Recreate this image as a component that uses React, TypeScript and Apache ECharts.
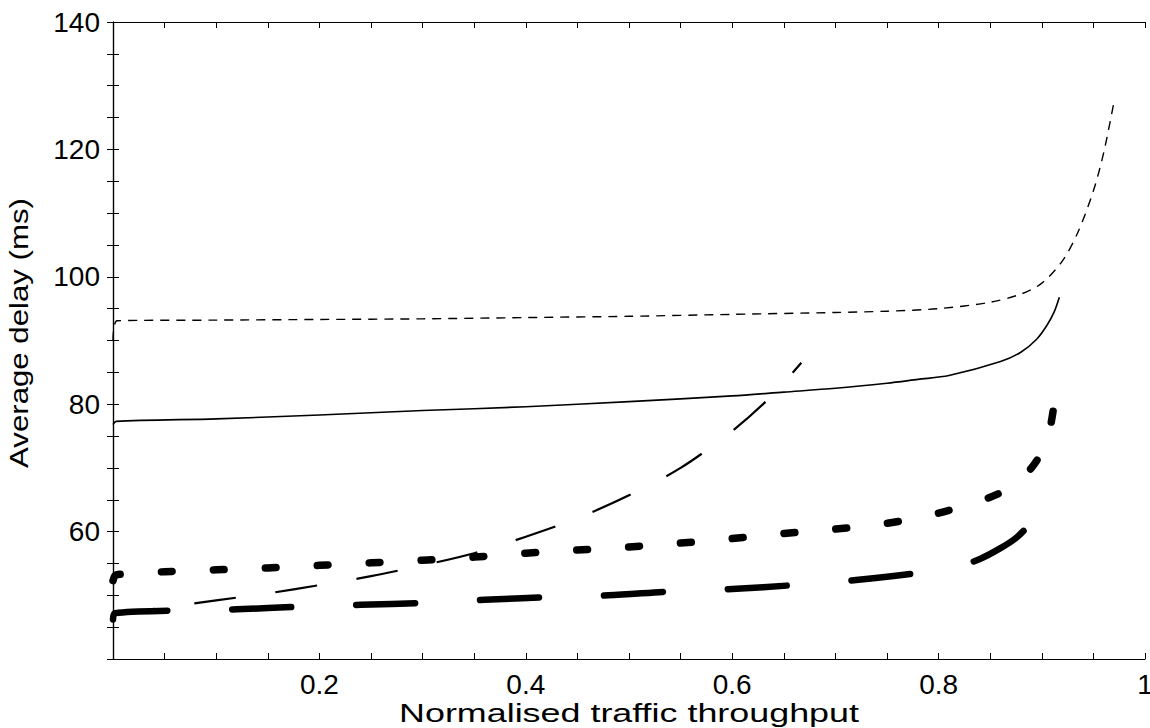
import React, { useEffect, useRef } from "react";
import * as echarts from "echarts";

// Series A: thin short-dashed
const aX = [0, 0.004, 0.1, 0.2, 0.3, 0.4, 0.5, 0.6, 0.7, 0.75, 0.8, 0.85, 0.88, 0.9, 0.92, 0.935, 0.95, 0.96, 0.97];
const aY = [90, 93.1, 93.2, 93.3, 93.4, 93.6, 93.8, 94.1, 94.4, 94.6, 95.0, 96.0, 97.3, 99, 102.5, 107, 113.5, 119.5, 127.5];
// Series B: thin solid
const bX = [0, 0.003, 0.1, 0.2, 0.3, 0.4, 0.5, 0.6, 0.65, 0.7, 0.75, 0.78, 0.81, 0.86, 0.88, 0.895, 0.905, 0.912, 0.917];
const bY = [76.8, 77.3, 77.7, 78.3, 79.0, 79.6, 80.4, 81.3, 81.9, 82.5, 83.3, 83.9, 84.5, 86.7, 88.2, 90.2, 92.4, 94.5, 96.8];
// Series C: thin long-dashed
const cX = [0, 0.05, 0.1, 0.15, 0.2, 0.25, 0.3, 0.35, 0.4, 0.45, 0.5, 0.55, 0.6, 0.635, 0.667];
const cY = [47.0, 48.1, 49.2, 50.3, 51.6, 53.0, 54.7, 56.6, 59.2, 62.1, 65.7, 70.0, 75.8, 80.8, 86.5];
// Series D: thick long-dashed
const dX = [0, 0.002, 0.06, 0.12, 0.18, 0.24, 0.3, 0.36, 0.42, 0.48, 0.54, 0.6, 0.66, 0.72, 0.78, 0.82, 0.84, 0.86, 0.875, 0.887];
const dY = [46.2, 47.2, 47.6, 47.8, 48.2, 48.5, 48.8, 49.3, 49.7, 50.0, 50.6, 51.0, 51.6, 52.4, 53.5, 54.6, 55.7, 57.4, 59.0, 60.9];
// Series E: thick short-dashed
const eX = [0, 0.003, 0.05, 0.1, 0.15, 0.2, 0.25, 0.3, 0.35, 0.4, 0.45, 0.5, 0.55, 0.6, 0.65, 0.7, 0.75, 0.8, 0.85, 0.875, 0.89, 0.9, 0.907, 0.911];
const eY = [52.3, 53.2, 53.7, 54.0, 54.3, 54.7, 55.1, 55.5, 56.0, 56.6, 57.1, 57.6, 58.2, 58.9, 59.7, 60.4, 61.3, 62.9, 65.4, 67.5, 70, 72.5, 75.5, 79];

const xLabel = "Normalised traffic throughput";
const yLabel = "Average delay (ms)";

const zip = (xs: number[], ys: number[]) => xs.map((x, i) => [x, ys[i]]);

export default function App() {
  const ref = useRef<HTMLDivElement>(null);
  useEffect(() => {
    if (!ref.current) return;
    const chart = echarts.init(ref.current, undefined, { renderer: "svg" });
    const font = "Liberation Sans";
    const tick = { show: true, inside: true, length: 6, lineStyle: { color: "#000", width: 1 } };
    const line = { show: true, lineStyle: { color: "#000", width: 1.2 } };
    const xFmt = (v: number) => {
      const k = v * 5;
      if (v > 0 && Math.abs(k - Math.round(k)) < 1e-6) return String(Math.round(k) / 5);
      return "";
    };
    const yFmt = (v: number) => (v > 40 && Math.round(v) % 20 === 0 ? String(Math.round(v)) : "");
    const mk = (xs: number[], ys: number[], width: number, type: any, cap: any) => ({
      type: "line",
      data: zip(xs, ys),
      showSymbol: false,
      symbol: "none",
      smooth: 0.3,
      lineStyle: { color: "#000", width, type, cap, join: "round" },
      z: 3,
    });
    chart.setOption({
      animation: false,
      backgroundColor: "#fff",
      grid: { left: 113, top: 22, right: 5, bottom: 69, containLabel: false, outerBoundsMode: "none" },
      graphic: [
        {
          type: "text", x: 629, y: 713, scaleX: 1.38,
          style: { text: xLabel, fontSize: 26, fontFamily: font, fill: "#000", align: "center", verticalAlign: "middle" },
        },
        {
          type: "text", x: 19, y: 333, rotation: Math.PI / 2, scaleX: 1.2,
          style: { text: yLabel, fontSize: 26, fontFamily: font, fill: "#000", align: "center", verticalAlign: "middle" },
        },
      ],
      xAxis: [
        {
          type: "value", min: 0, max: 1, interval: 0.05, position: "bottom",
          axisLine: line, axisTick: tick, splitLine: { show: false },
          axisLabel: { formatter: xFmt, color: "#000", fontSize: 28, fontFamily: font, margin: 11, showMinLabel: false },
        },
        {
          type: "value", min: 0, max: 1, interval: 0.05, position: "top",
          axisLine: line, axisTick: tick, splitLine: { show: false }, axisLabel: { show: false },
        },
      ],
      yAxis: [
        {
          type: "value", min: 40, max: 140, interval: 5, position: "left",
          axisLine: line, axisTick: tick, splitLine: { show: false },
          axisLabel: { formatter: yFmt, color: "#000", fontSize: 28, fontFamily: font, margin: 13 },
        },
        {
          type: "value", min: 40, max: 140, interval: 5, position: "right",
          axisLine: line, axisTick: tick, splitLine: { show: false }, axisLabel: { show: false },
        },
      ],
      series: [
        mk(aX, aY, 1.4, [9, 7], "butt"),
        mk(bX, bY, 1.6, "solid", "butt"),
        mk(cX, cY, 2.2, [42, 40], "butt"),
        mk(dX, dY, 6.5, [59, 65], "round"),
        mk(eX, eY, 7.5, [11, 41], "round"),
      ],
    });
    return () => chart.dispose();
  }, []);
  return (
    <div
      ref={ref}
      style={{ position: "absolute", left: 0, top: 0, width: 1150, height: 728, background: "#fff" }}
    />
  );
}
